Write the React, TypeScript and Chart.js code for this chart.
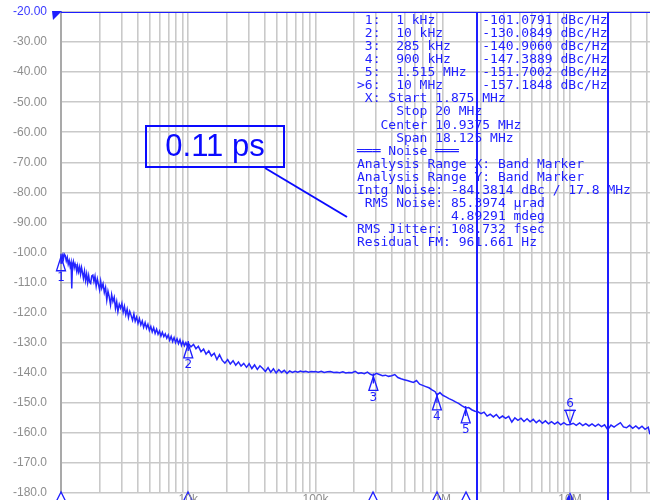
import { useEffect, useRef } from "react";
import { Chart, registerables } from "chart.js";

Chart.register(...registerables);

// ---- Trace data: offset frequency (Hz) and phase noise (dBc/Hz) ----
const freqsHz = [
  1000, 1015, 1030, 1045, 1060, 1080, 1100, 1120, 1140, 1160, 1180, 1200, 1215, 1230, 1250, 1270, 1290, 1310, 1330, 1350,
  1375, 1400, 1425, 1450, 1475, 1500, 1530, 1560, 1590, 1620, 1650, 1680, 1710, 1745, 1780, 1815, 1850, 1890, 1930, 1970,
  2010, 2050, 2090, 2140, 2190, 2240, 2290, 2340, 2390, 2450, 2500, 2560, 2620, 2680, 2740, 2800, 2870, 2940, 3010, 3080,
  3150, 3230, 3310, 3390, 3470, 3560, 3650, 3740, 3830, 3930, 4030, 4130, 4240, 4350, 4460, 4580, 4700, 4820, 4950, 5080,
  5210, 5350, 5490, 5640, 5790, 5940, 6100, 6260, 6430, 6600, 6780, 6960, 7150, 7340, 7540, 7740, 7950, 8160, 8380, 8610,
  8840, 9080, 9330, 9580, 9800, 10000,
  10500, 11000, 11500, 12000, 12600, 13200, 13800, 14500, 15200, 16000, 16800, 17600, 18500, 19400, 20400, 21400, 22500,
  23600, 24800, 26000, 27300, 28700, 30100, 31600, 33200, 34900, 36600, 38500, 40400, 42400, 44500, 46700, 49100, 51500,
  54100, 56800, 59700, 62700, 65800, 69100, 72600, 76200, 80000, 84000, 88200, 92600, 97200, 100000,
  105000, 111000, 117000, 124000, 131000, 139000, 147000, 155000, 164000, 173000, 183000, 194000, 205000, 217000, 229000,
  242000, 256000, 270000, 285000, 300000, 318000, 336000, 355000, 375000, 397000, 420000, 444000, 470000, 497000, 526000,
  556000, 588000, 622000, 658000, 696000, 736000, 779000, 824000, 872000, 900000, 950000, 1000000,
  1060000, 1120000, 1190000, 1260000, 1330000, 1410000, 1515000, 1600000, 1690000, 1790000, 1890000, 2000000, 2110000,
  2230000, 2360000, 2500000, 2640000, 2790000, 2950000, 3120000, 3300000, 3490000, 3690000, 3900000, 4120000, 4350000,
  4600000, 4860000, 5140000, 5430000, 5740000, 6070000, 6410000, 6780000, 7160000, 7570000, 8000000, 8460000, 8940000,
  9450000, 10000000,
  10600000, 11200000, 11900000, 12600000, 13300000, 14100000, 14900000, 15800000, 16700000, 17700000, 18700000, 19800000,
  21000000, 22200000, 23500000, 24900000, 26300000, 27800000, 29400000, 31100000, 32900000, 34800000, 36800000, 38900000,
  41200000, 42500000,
];

const noiseDbc = [
  -103.5, -101.8, -100.9, -102.2, -100.5, -101.0, -102.8, -101.6, -103.9, -102.7, -104.6, -103.3, -112.0, -104.2, -103.0, -105.1, -103.8, -104.9, -106.4, -104.5,
  -106.4, -104.8, -107.2, -105.0, -106.6, -108.6, -106.2, -109.3, -107.1, -110.0, -107.7, -109.9, -110.3, -107.8, -107.5, -109.6, -107.9, -111.2, -108.8, -110.6,
  -112.4, -109.5, -111.9, -110.4, -113.3, -111.6, -115.8, -112.9, -114.6, -117.4, -114.0, -116.3, -114.9, -118.6, -116.4, -119.7, -117.2, -118.5, -116.9, -119.8,
  -117.9, -120.7, -118.8, -121.6, -119.6, -121.0, -122.5, -120.4, -122.9, -121.5, -123.6, -122.0, -124.1, -122.8, -124.9, -123.3, -125.2, -123.9, -125.9, -124.6,
  -126.4, -125.0, -126.9, -125.5, -127.2, -126.1, -127.8, -126.5, -128.0, -127.1, -128.5, -127.4, -129.2, -127.9, -129.6, -128.3, -130.0, -128.7, -130.3, -129.0,
  -130.9, -129.6, -131.0, -130.0, -131.0, -130.1,
  -131.4, -130.6, -132.0, -131.2, -133.0, -132.1, -133.8, -132.7, -134.4, -133.5, -135.6, -134.0, -135.9, -136.8, -135.6, -137.1, -136.0,
  -137.5, -136.4, -137.8, -136.9, -138.2, -137.0, -138.6, -137.4, -138.9, -137.7, -138.6, -139.6, -138.3, -139.8, -138.7, -140.1, -139.0,
  -139.9, -139.2, -140.2, -139.4, -139.9, -139.5, -139.8, -139.4, -139.7, -139.5, -139.8, -139.6, -139.7, -139.6,
  -139.8, -139.5, -139.9, -139.7, -139.6, -139.9, -139.8, -140.0, -139.7, -140.1, -139.9, -140.0, -139.5, -140.2, -140.0,
  -140.3, -139.8, -140.5, -140.9, -140.2, -140.6, -141.0, -140.8, -141.2, -141.0, -140.6, -141.6, -142.0, -142.3, -142.6,
  -142.9, -143.2, -142.6, -143.8, -144.2, -144.6, -145.0, -145.7, -146.3, -147.4, -146.6, -147.5,
  -148.0, -148.6, -149.1, -149.7, -150.2, -150.9, -151.7, -151.6, -152.3, -152.8, -153.0, -153.6, -153.1,
  -154.4, -153.8, -154.7, -153.9, -155.1, -154.4, -155.2, -154.5, -156.4, -155.0, -155.8, -155.1, -156.2,
  -155.3, -156.3, -155.5, -156.6, -155.8, -156.8, -156.0, -157.0, -156.3, -157.1, -156.4, -157.3, -156.6,
  -157.3, -157.2,
  -156.8, -157.5, -156.7, -157.6, -156.9, -157.7, -157.0, -157.8, -157.1, -157.9, -157.3, -158.9,
  -157.4, -158.1, -157.3, -156.6, -158.0, -158.3, -157.5, -158.5, -157.7, -158.6, -157.8, -158.8,
  -158.1, -160.5,
];

// ---- Markers ----
const markerFreqs = [1e3, 1e4, 2.85e5, 9e5, 1.515e6, 1e7];
const markerValues = [-101.0791, -130.0849, -140.906, -147.3889, -151.7002, -157.1848];
const markerNames = ["1", "2", "3", "4", "5", "6"];
const markerFreqTexts = ["1 kHz", "10 kHz", "285 kHz", "900 kHz", "1.515 MHz", "10 MHz"];
const activeMarkerIndex = 5;

// ---- Band marker / analysis info ----
const bandStartHz = 1.875e6;
const bandStopHz = 20e6;
const infoLines = [
  " X: Start 1.875 MHz",
  "     Stop 20 MHz",
  "   Center 10.9375 MHz",
  "     Span 18.125 MHz",
  "═══ Noise ═══",
  "Analysis Range X: Band Marker",
  "Analysis Range Y: Band Marker",
  "Intg Noise: -84.3814 dBc / 17.8 MHz",
  " RMS Noise: 85.3974 µrad",
  "            4.89291 mdeg",
  "RMS Jitter: 108.732 fsec",
  "Residual FM: 961.661 Hz",
];
const jitterCallout = "0.11 ps";

// ---- Axes ----
const xMinHz = 1000;
const xMaxHz = 4.254e7;
const yMinDb = -180;
const yMaxDb = -20;
const yStepDb = 10;
const xLabelValues = [1e4, 1e5, 1e6, 1e7];
const xLabelTexts = ["10k", "100k", "1M", "10M"];

const BLUE = "#1e1eff";
const GRAY_TXT = "#8e8e8e";
const GRID = "#c9c9c9";

function formatY(v: number): string {
  return v > -100 ? v.toFixed(2) : v.toFixed(1);
}

function triangle(ctx: CanvasRenderingContext2D, x: number, apexY: number, h: number, hw: number) {
  ctx.beginPath();
  ctx.moveTo(x, apexY);
  ctx.lineTo(x - hw, apexY + h);
  ctx.lineTo(x + hw, apexY + h);
  ctx.closePath();
}

const overlayPlugin = {
  id: "overlay",
  afterDatasetsDraw(chart: any) {
    const { ctx, chartArea, scales } = chart;
    const xs = scales.x;
    const ys = scales.y;
    const H = chart.height;
    ctx.save();

    // top reference line
    ctx.strokeStyle = BLUE;
    ctx.lineWidth = 1;
    ctx.beginPath();
    ctx.moveTo(chartArea.left, chartArea.top + 0.5);
    ctx.lineTo(chartArea.right, chartArea.top + 0.5);
    ctx.stroke();

    // reference level flag
    ctx.fillStyle = BLUE;
    ctx.beginPath();
    ctx.moveTo(chartArea.left - 9, chartArea.top - 1);
    ctx.lineTo(chartArea.left + 1, chartArea.top - 1);
    ctx.lineTo(chartArea.left - 8, chartArea.top + 8);
    ctx.closePath();
    ctx.fill();

    // band marker lines
    ctx.lineWidth = 2;
    for (const f of [bandStartHz, bandStopHz]) {
      const px = Math.round(xs.getPixelForValue(f));
      ctx.beginPath();
      ctx.moveTo(px, chartArea.top);
      ctx.lineTo(px, H);
      ctx.stroke();
    }

    // markers on trace
    ctx.lineWidth = 1.3;
    ctx.font = "12px 'DejaVu Sans'";
    ctx.textAlign = "center";
    ctx.textBaseline = "middle";
    markerFreqs.forEach((f, i) => {
      const px = xs.getPixelForValue(f);
      const py = ys.getPixelForValue(markerValues[i]);
      ctx.strokeStyle = BLUE;
      ctx.fillStyle = BLUE;
      if (i === activeMarkerIndex) {
        triangle(ctx, px, py - 1, -13, 4.5);
        ctx.stroke();
        ctx.beginPath();
        ctx.moveTo(px - 6, py - 14);
        ctx.lineTo(px + 6, py - 14);
        ctx.stroke();
        ctx.fillText(markerNames[i], px, py - 21);
      } else {
        triangle(ctx, px, py + 1, 14, 4.5);
        ctx.stroke();
        ctx.beginPath();
        ctx.moveTo(px, py - 2);
        ctx.lineTo(px, py + 8);
        ctx.stroke();
        ctx.fillText(markerNames[i], px, py + 22);
      }
      // axis marker at bottom edge
      const bx = Math.round(px);
      triangle(ctx, bx, chartArea.bottom - 1, 12, 6);
      if (i === activeMarkerIndex) ctx.fill();
      else ctx.stroke();
    });

    // x axis labels (cut at the bottom edge)
    ctx.fillStyle = GRAY_TXT;
    ctx.font = "12px 'Liberation Sans'";
    ctx.textBaseline = "top";
    ctx.textAlign = "center";
    xLabelValues.forEach((v, i) => {
      ctx.fillText(xLabelTexts[i], xs.getPixelForValue(v), chartArea.bottom + 1);
    });

    // marker / noise table
    ctx.fillStyle = BLUE;
    ctx.font = "13px 'DejaVu Sans Mono'";
    ctx.textAlign = "left";
    ctx.textBaseline = "middle";
    const tx = 357;
    const ty0 = 20.7;
    const lh = 13.06;
    const lines: string[] = markerFreqTexts.map((t, i) => {
      const head = (i === activeMarkerIndex ? ">" : " ") + markerNames[i] + ":  " + t;
      return head.padEnd(16, " ") + markerValues[i].toFixed(4) + " dBc/Hz";
    });
    lines.push(...infoLines);
    lines.forEach((s, i) => ctx.fillText(s, tx, ty0 + i * lh));

    // jitter callout
    ctx.strokeStyle = "#0a0aff";
    ctx.lineWidth = 2;
    ctx.strokeRect(146, 126, 138, 41);
    ctx.fillStyle = "#0a0aff";
    ctx.font = "31px 'Liberation Sans'";
    ctx.textAlign = "center";
    ctx.textBaseline = "middle";
    ctx.fillText(jitterCallout, 215, 147);
    ctx.beginPath();
    ctx.moveTo(265, 168);
    ctx.lineTo(347, 217);
    ctx.stroke();

    ctx.restore();
  },
};

export default function App() {
  const canvasRef = useRef<HTMLCanvasElement | null>(null);

  useEffect(() => {
    const canvas = canvasRef.current;
    if (!canvas) return;
    const gridTicks: number[] = [];
    for (let e = 3; e <= 7; e++) {
      for (let m = 1; m <= 9; m++) {
        const v = m * Math.pow(10, e);
        if (v >= xMinHz && v <= xMaxHz) gridTicks.push(v);
      }
    }
    const chart = new Chart(canvas, {
      type: "line",
      data: {
        datasets: [
          {
            data: freqsHz.map((f, i) => ({ x: f, y: noiseDbc[i] })),
            borderColor: "#2424ff",
            borderWidth: 1.5,
            pointRadius: 0,
            tension: 0,
            fill: false,
          },
        ],
      },
      options: {
        animation: false,
        responsive: false,
        devicePixelRatio: 1,
        layout: { padding: { top: 12, left: 0, right: 0, bottom: 0 } },
        plugins: { legend: { display: false }, tooltip: { enabled: false } },
        scales: {
          x: {
            type: "logarithmic",
            min: xMinHz,
            max: xMaxHz,
            afterBuildTicks: (scale: any) => {
              scale.ticks = gridTicks.map((v) => ({ value: v }));
            },
            afterFit: (scale: any) => {
              scale.height = 7;
              scale.paddingLeft = 0;
              scale.paddingRight = 0;
            },
            ticks: { display: false },
            grid: { color: GRID, lineWidth: 1.6, drawTicks: false },
            border: { display: false },
          },
          y: {
            type: "linear",
            min: yMinDb,
            max: yMaxDb,
            afterFit: (scale: any) => {
              scale.width = 61;
              scale.paddingTop = 0;
              scale.paddingBottom = 0;
            },
            ticks: {
              stepSize: yStepDb,
              padding: 14,
              autoSkip: false,
              callback: (v: any) => formatY(Number(v)),
              color: (c: any) => (c.tick && c.tick.value === yMaxDb ? "#3a3aff" : GRAY_TXT),
              font: { family: "'Liberation Sans'", size: 12 },
            },
            grid: { color: GRID, lineWidth: 1.6, drawTicks: false },
            border: { display: true, color: "#a9a9a9", width: 2 },
          },
        },
      },
      plugins: [overlayPlugin],
    } as any);
    return () => chart.destroy();
  }, []);

  return (
    <div style={{ position: "absolute", left: 0, top: 0, width: 650, height: 500, background: "#fff" }}>
      <canvas ref={canvasRef} width={650} height={500} />
    </div>
  );
}
